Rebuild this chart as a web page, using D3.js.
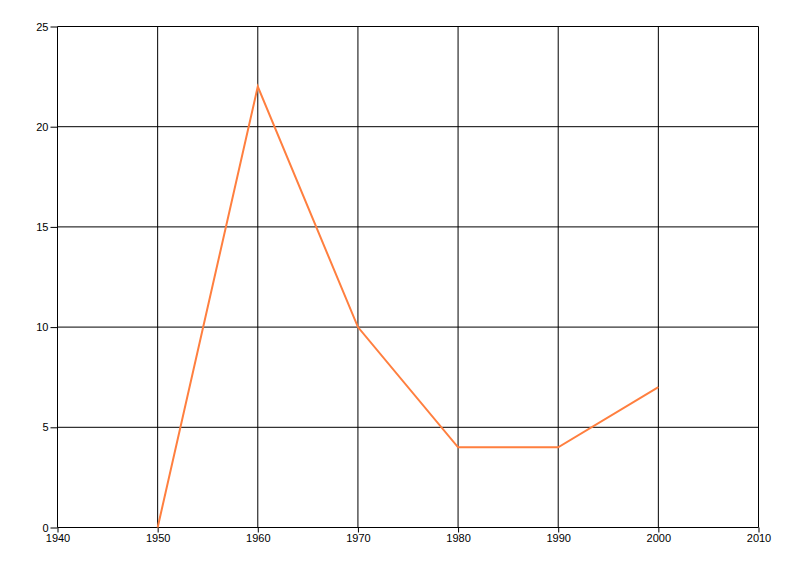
<!DOCTYPE html>
<html><head><meta charset="utf-8">
<script src="https://cdn.jsdelivr.net/npm/d3@7"></script>
<style>body{margin:0;background:#fff}svg{display:block}</style>
</head><body>
<svg id="c" width="800" height="576"></svg>
<script>
const years = [1950, 1960, 1970, 1980, 1990, 2000];
const values = [0, 22, 10, 4, 4, 7];
const xTicks = [1940, 1950, 1960, 1970, 1980, 1990, 2000, 2010];
const yTicks = [0, 5, 10, 15, 20, 25];

(function () {
const svg = d3.select("#c");
const mLeft = 57.5, mRight = 758.5, mTop = 26.5, mBottom = 527.5;
const x = d3.scaleLinear().domain([1940, 2010]).range([mLeft, mRight]);
const y = d3.scaleLinear().domain([0, 25]).range([mBottom, mTop]);

svg.append("g").selectAll("line").data(xTicks).join("line")
  .attr("x1", d => x(d)).attr("x2", d => x(d)).attr("y1", mTop).attr("y2", mBottom)
  .attr("stroke", "#000").attr("stroke-width", 1);
svg.append("g").selectAll("line").data(yTicks).join("line")
  .attr("x1", mLeft).attr("x2", mRight).attr("y1", d => y(d)).attr("y2", d => y(d))
  .attr("stroke", "#000").attr("stroke-width", 1);

const xAxis = d3.axisBottom(x).tickValues(xTicks).tickFormat(d3.format("d")).tickSize(5).tickPadding(2);
const yAxis = d3.axisLeft(y).tickValues(yTicks).tickSize(7).tickPadding(2);
const gx = svg.append("g").attr("transform", `translate(0,${mBottom})`).call(xAxis);
const gy = svg.append("g").attr("transform", `translate(${mLeft},0)`).call(yAxis);
[gx, gy].forEach(g => {
  g.select(".domain").remove();
  g.selectAll("line").attr("stroke", "#000");
  g.selectAll("text").attr("fill", "#000").style("font-family", "'Liberation Sans', Arial, sans-serif").style("font-size", "11px");
});

const line = d3.line().x((d, i) => x(years[i])).y(d => y(d));
svg.append("path").datum(values).attr("d", line)
  .attr("fill", "none").attr("stroke", "#FF7F3F").attr("stroke-width", 2).attr("stroke-linejoin", "miter");
})();
</script>
</body></html>
